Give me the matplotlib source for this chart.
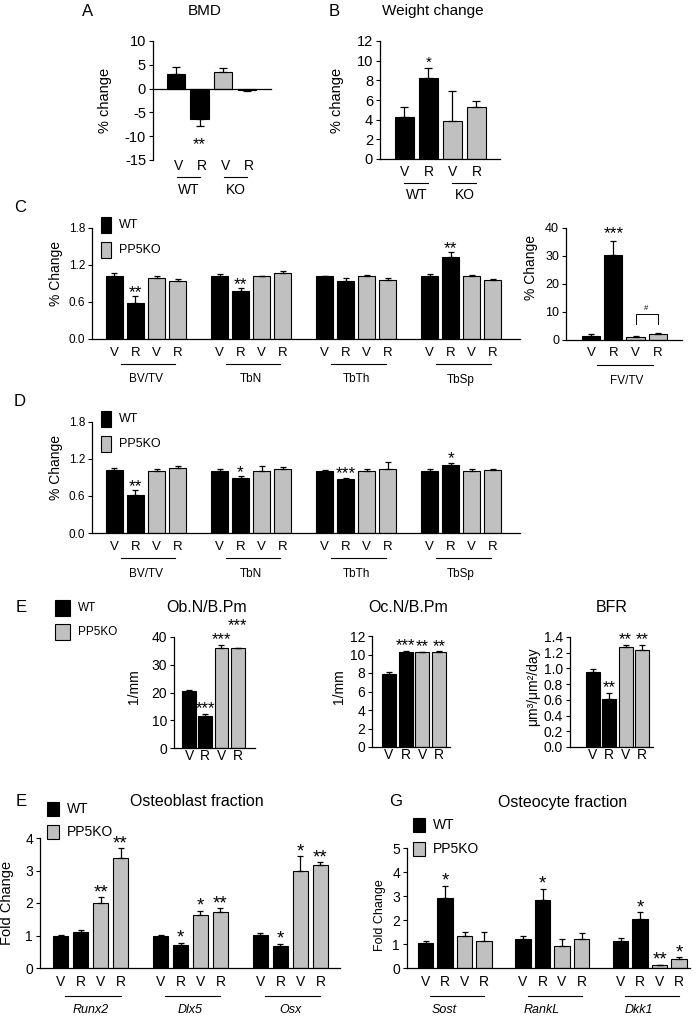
import matplotlib
matplotlib.use('Agg')
import matplotlib.pyplot as plt
from matplotlib.patches import Rectangle
import numpy as np

plt.rcParams['font.family'] = ['Liberation Sans', 'DejaVu Sans']
NARROW = ['Liberation Sans Narrow', 'Liberation Sans', 'DejaVu Sans']

W, H = 700, 1016
GRAY = '#c0c0c0'

# ---- data ----
treat = ['V', 'R', 'V', 'R']
bar_colors = ['black', 'black', GRAY, GRAY]

bmd_vals = [3.0, -6.4, 3.4, -0.3]
bmd_err = [1.5, 1.5, 1.0, 0.2]
bmd_sig = ['', '**', '', '']

weight_vals = [4.3, 8.25, 3.9, 5.3]
weight_err = [1.0, 1.0, 3.0, 0.6]
weight_sig = ['', '*', '', '']
geno = ['WT', 'KO']

micro_params = ['BV/TV', 'TbN', 'TbTh', 'TbSp']
c_vals = [1.02, 0.58, 0.98, 0.93, 1.02, 0.78, 1.01, 1.06,
          1.01, 0.94, 1.02, 0.95, 1.02, 1.33, 1.01, 0.95]
c_err = [0.04, 0.11, 0.04, 0.04, 0.03, 0.04, 0.01, 0.04,
         0.01, 0.04, 0.02, 0.03, 0.03, 0.08, 0.02, 0.02]
c_sig = ['', '**', '', '', '', '**', '', '',
         '', '', '', '', '', '**', '', '']

fv_vals = [1.2, 30.3, 1.0, 2.0]
fv_err = [0.8, 5.2, 0.2, 0.3]
fv_sig = ['', '***', '', '']

d_vals = [1.02, 0.62, 1.01, 1.05, 1.01, 0.90, 1.01, 1.04,
          1.01, 0.88, 1.01, 1.03, 1.01, 1.11, 1.01, 1.02]
d_err = [0.03, 0.08, 0.03, 0.03, 0.03, 0.02, 0.08, 0.03,
         0.01, 0.02, 0.03, 0.12, 0.03, 0.03, 0.03, 0.02]
d_sig = ['', '**', '', '', '', '*', '', '',
         '', '***', '', '', '', '*', '', '']

ob_vals = [20.7, 11.7, 36.0, 36.0]
ob_err = [0.3, 0.6, 1.2, 0.0]
ob_sig = ['', '***', '***', '***']

oc_vals = [7.9, 10.3, 10.25, 10.25]
oc_err = [0.25, 0.12, 0.05, 0.08]
oc_sig = ['', '***', '**', '**']

bfr_vals = [0.96, 0.61, 1.27, 1.23]
bfr_err = [0.03, 0.08, 0.03, 0.07]
bfr_sig = ['', '**', '**', '**']

ob_genes = ['Runx2', 'Dlx5', 'Osx']
f_vals = [1.0, 1.1, 2.0, 3.37, 1.0, 0.7, 1.62, 1.73, 1.03, 0.68, 3.0, 3.16]
f_err = [0.02, 0.07, 0.17, 0.32, 0.02, 0.08, 0.14, 0.12, 0.05, 0.07, 0.45, 0.1]
f_sig = ['', '', '**', '**', '', '*', '*', '**', '', '*', '*', '**']

oc_genes = ['Sost', 'RankL', 'Dkk1']
g_vals = [1.06, 2.91, 1.33, 1.13, 1.2, 2.84, 0.9, 1.2, 1.13, 2.04, 0.11, 0.36]
g_err = [0.07, 0.52, 0.17, 0.37, 0.14, 0.46, 0.3, 0.24, 0.1, 0.28, 0.03, 0.1]
g_sig = ['', '*', '', '', '', '*', '', '', '', '*', '**', '*']

fig = plt.figure(figsize=(W / 100, H / 100), dpi=100)


def px_axes(x0, y0, x1, y1):
    return fig.add_axes([x0 / W, 1 - y1 / H, (x1 - x0) / W, (y1 - y0) / H])


def ftext(x, y, s, size, **kw):
    kw.setdefault('ha', 'center')
    fig.text(x / W, 1 - y / H, s, va='center', fontsize=size, **kw)


def style(ax, ylim, yticks, size, fmt='%g', family=None):
    ax.spines['top'].set_visible(False)
    ax.spines['right'].set_visible(False)
    for s in ['left', 'bottom']:
        ax.spines[s].set_linewidth(0.9)
    ax.set_ylim(*ylim)
    ax.set_yticks(yticks)
    ax.set_yticklabels([fmt % t for t in yticks])
    ax.set_xticks([])
    ax.tick_params(axis='y', direction='out', length=3, width=0.8,
                   labelsize=size, pad=2)
    if family:
        for lab in ax.get_yticklabels():
            lab.set_family(family)


def star(ax, x, y, s, size, gap, below=False):
    # asterisk ink sits roughly 0.22-0.72 em above the baseline
    em = size * 100 / 72
    if below:
        off = -gap - 0.72 * em
    else:
        off = gap - 0.22 * em
    ax.annotate(s, (x, y), xytext=(0, off), textcoords='offset pixels',
                ha='center', va='baseline', fontsize=size)


def bars(ax, xs, vals, errs, sig, width, star_size, capsize=2.5, gap=4):
    vals = np.array(vals)
    errs = np.array(errs)
    colors = [bar_colors[i % 4] for i in range(len(vals))]
    ax.bar(xs, vals, width, color=colors, edgecolor='black', linewidth=0.8, zorder=2)
    up = vals >= 0
    yerr = np.vstack([np.where(up, 0, errs), np.where(up, errs, 0)])
    ax.errorbar(xs, vals, yerr=yerr, fmt='none', ecolor='black', elinewidth=0.9,
                capsize=capsize, capthick=0.9, zorder=3)
    for x, v, e, s in zip(xs, vals, errs, sig):
        if not s:
            continue
        if v >= 0:
            star(ax, x, v + e, s, star_size, gap)
        else:
            star(ax, x, v - e, s, star_size, gap, below=True)


def under(ax, x, s, dy, size, **kw):
    ax.annotate(s, (x, 0), xycoords=('data', 'axes fraction'), xytext=(0, -dy),
                textcoords='offset pixels', ha='center', va='center', fontsize=size, **kw)


def uline(ax, x0, x1, dy):
    h = ax.get_position().height * H
    ax.plot([x0, x1], [-dy / h, -dy / h], transform=ax.get_xaxis_transform(),
            clip_on=False, color='black', lw=0.8)


def legend(x, y0, y1, w, h, tx, size, family=None):
    for y, c, lab in [(y0, 'black', 'WT'), (y1, GRAY, 'PP5KO')]:
        fig.add_artist(Rectangle((x / W, 1 - (y + h) / H), w / W, h / H,
                                 transform=fig.transFigure, facecolor=c,
                                 edgecolor='black', linewidth=0.8))
        ftext(tx, y + h / 2, lab, size, ha='left', family=family)


# ---- A: BMD ----
ax = px_axes(153, 41, 271, 160)
x4 = np.arange(4)
style(ax, (-15, 10), np.arange(-15, 11, 5), 10.5)
ax.spines['bottom'].set_position(('data', 0))
ax.set_xlim(-0.98, 4.04)
bars(ax, x4, bmd_vals, bmd_err, bmd_sig, 0.77, 12, capsize=3, gap=11)
for x, t in zip(x4, treat):
    under(ax, x + 0.12, t, 6, 10)
for i, g in enumerate(geno):
    uline(ax, 2 * i + 0.05, 2 * i + 1.0, 17)
    under(ax, 2 * i + 0.55, g, 30, 10)
ftext(88, 11, 'A', 12)
ftext(205, 11, 'BMD', 11)
ftext(105, 100, '% change', 10.5, rotation=90)

# ---- B: weight change ----
ax = px_axes(380, 41, 500, 159)
style(ax, (0, 12), np.arange(0, 13, 2), 10.5)
ax.set_xlim(-1.02, 3.98)
bars(ax, x4, weight_vals, weight_err, weight_sig, 0.79, 11, capsize=3, gap=5)
for x, t in zip(x4, treat):
    under(ax, x, t, 13, 10)
for i, g in enumerate(geno):
    uline(ax, 2 * i, 2 * i + 1.0, 24)
    under(ax, 2 * i + 0.5, g, 36, 10)
ftext(334, 11, 'B', 12)
ftext(433, 11, 'Weight change', 11)
ftext(337, 100, '% change', 10.5, rotation=90)

# ---- C and D: microCT ----
x16 = np.array([g * 5 + i for g in range(4) for i in range(4)])
for (ytop, ybot, vals, errs, sig, letter) in [(228, 338.5, c_vals, c_err, c_sig, 'C'),
                                              (422, 533, d_vals, d_err, d_sig, 'D')]:
    ax = px_axes(92, ytop, 520, ybot)
    style(ax, (0, 1.8), [0, 0.6, 1.2, 1.8], 8.5, fmt='%.1f', family=NARROW)
    ax.set_xlim(-1.07, 19.3)
    bars(ax, x16, vals, errs, sig, 0.81, 12.5, capsize=2.5, gap=3)
    for x, t in zip(x16, treat * 4):
        under(ax, x, t, 14, 9.5, family=NARROW)
    for g, p in enumerate(micro_params):
        uline(ax, g * 5 + 0.3, g * 5 + 2.9, 25)
        under(ax, g * 5 + 1.5, p, 41, 8.5, family=NARROW)
    ftext(20, ytop - 20, letter, 12)
    ftext(56, ytop + 45, '% Change', 10, rotation=90, family=NARROW)
    legend(101, ytop - 11, ytop + 14, 10, 16, 119, 9, family=NARROW)

ax = px_axes(566, 228, 682, 339.5)
style(ax, (0, 40), np.arange(0, 41, 10), 9)
ax.set_xlim(-1.14, 4.1)
bars(ax, x4, fv_vals, fv_err, fv_sig, 0.82, 12.5, capsize=2.5, gap=6)
ax.plot([2, 2, 3, 3], [5.5, 9, 9, 5.5], color='black', lw=0.7)
ax.text(2.5, 9.8, '#', ha='center', va='bottom', fontsize=5.5)
for x, t in zip(x4, treat):
    under(ax, x, t, 14, 9.5, family=NARROW)
uline(ax, 0.25, 2.8, 25)
under(ax, 1.6, 'FV/TV', 41, 8.5, family=NARROW)
ftext(531, 268, '% Change', 10, rotation=90, family=NARROW)

# ---- E: histomorphometry ----
e_panels = [((174, 637, 255, 748), ob_vals, ob_err, ob_sig, (0, 40), np.arange(0, 41, 10),
             '%g', (-0.93, 4.07), 0.86, 'Ob.N/B.Pm', 207, '1/mm', 134),
            ((372, 636, 450, 747), oc_vals, oc_err, oc_sig, (0, 12), np.arange(0, 13, 2),
             '%g', (-1.02, 3.65), 0.84, 'Oc.N/B.Pm', 408, '1/mm', 339),
            ((570, 637, 653, 747), bfr_vals, bfr_err, bfr_sig, (0, 1.4), np.arange(0, 1.41, 0.2),
             '%.1f', (-1.41, 3.68), 0.86, 'BFR', 612, 'μm³/μm²/day', 533)]
e_axes = []
for (box, vals, errs, sig, ylim, ticks, fmt, xlim, wd, title, tx, ylab, yx) in e_panels:
    ax = px_axes(*box)
    style(ax, ylim, ticks, 10, fmt=fmt, family=NARROW)
    ax.set_xlim(*xlim)
    for x, t in zip(x4, treat):
        under(ax, x, t, 8, 10)
    ftext(tx, 607, title, 11.5, family=NARROW)
    ftext(yx, 687, ylab, 10, rotation=90, family=NARROW)
    e_axes.append((ax, vals, errs, sig, wd))
# Ob.N/B.Pm: the last PP5KO star sits higher than its bar
ax, vals, errs, sig, wd = e_axes[0]
bars(ax, x4, vals, errs, sig[:3] + [''], wd, 12, capsize=2, gap=4)
star(ax, x4[3], vals[3] + errs[3], sig[3], 12, 22)
for ax, vals, errs, sig, wd in e_axes[1:]:
    bars(ax, x4, vals, errs, sig, wd, 12, capsize=2, gap=4)
ftext(21, 607, 'E', 12)
legend(55, 600, 624, 15, 16, 78, 8.5)

# ---- F and G: qPCR ----
x12 = np.array([g * 5 + i for g in range(3) for i in range(4)])
fg = [((40, 838, 340, 968), f_vals, f_err, f_sig, (0, 4), (-1.03, 13.98), 0.75,
       ob_genes, 1.5, 'E', 21, 'Osteoblast fraction', 197, 7, 903, 10.5, (47, 802, 825, 67)),
      ((407, 848, 690, 968), g_vals, g_err, g_sig, (0, 5), (-0.95, 13.56), 0.79,
       oc_genes, 0.95, 'G', 396, 'Osteocyte fraction', 563, 380, 915, 9, (413, 818, 842, 433))]
for (box, vals, errs, sig, ylim, xlim, wd, genes, gx, letter, lx, title, tx,
     yx, yy, ysize, lg) in fg:
    ax = px_axes(*box)
    style(ax, ylim, np.arange(ylim[0], ylim[1] + 1), 10)
    ax.set_xlim(*xlim)
    bars(ax, x12, vals, errs, sig, wd, 13.5, capsize=2.5, gap=4)
    for x, t in zip(x12, treat * 3):
        under(ax, x, t, 14, 10)
    for g, name in enumerate(genes):
        uline(ax, g * 5 + 0.23, g * 5 + 3.0, 28)
        under(ax, g * 5 + gx, name, 42, 9, style='italic')
    ftext(lx, 802, letter, 12)
    ftext(tx, 802, title, 11.5)
    ftext(yx, yy, 'Fold Change', ysize, rotation=90)
    legend(lg[0], lg[1], lg[2], 12, 14, lg[3], 10)

fig.savefig('out.png', dpi=100)
